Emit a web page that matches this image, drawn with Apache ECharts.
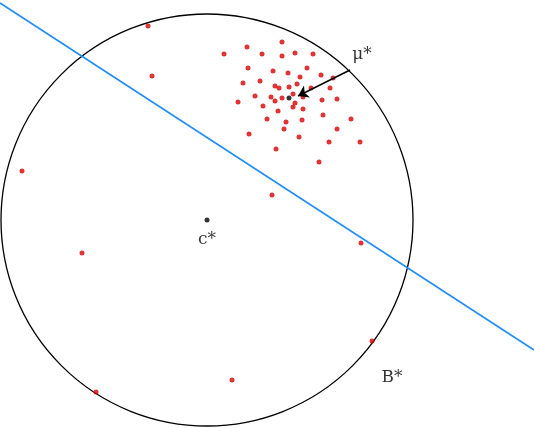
<!DOCTYPE html>
<html>
<head>
<meta charset="utf-8">
<script src="https://cdn.jsdelivr.net/npm/echarts@6/dist/echarts.min.js"></script>
<style>html,body{margin:0;padding:0;background:#fff}</style>
</head>
<body>
<div id="chart1" style="width:534px;height:428px;"></div>
<script type="text/javascript">
// 图中坐标（像素空间，y向下）
var clusterPoints = [[224,54],[247,47],[282,42],[262,54],[282,56],[295,53],[313,54],[248,68],[273,71],[288,73],[307,68],
  [243,83],[260,81],[300,77],[321,75],[333,78],[275,86],[279,88],[289,87],[297,84],[311,88],[330,88],
  [255,96],[271,97],[282,98],[293,94],[303,97],[238,102],[275,101],[295,103],[322,100],[337,99],
  [263,106],[293,107],[303,109],[278,111],[323,115],[267,119],[286,122],[302,120],[351,119],
  [284,129],[337,129],[249,134],[299,137],[329,142],[360,142],[276,149],[319,162]];
var outlierPoints = [[148,26],[152,76],[22,171],[272,195],[82,253],[361,243],[372,341],[232,380],[96,392]];
var centerC = [207,220];
var radiusB = 206;
var muStar = [289,98];
var splitLine = [[0,3],[534,350]];
var arrowLine = [[350,70],[298,96]];

var myChart = echarts.init(document.getElementById('chart1'));
var option = {
  animation: false,
  grid: {left: 0, right: 0, top: 0, bottom: 0},
  xAxis: {type: 'value', min: 0, max: 534, show: false},
  yAxis: {type: 'value', min: 0, max: 428, inverse: true, show: false},
  series: [{
    type: 'custom',
    data: [[centerC[0], centerC[1], radiusB]],
    renderItem: function (params, api) {
      var c = api.coord([api.value(0), api.value(1)]);
      var r = api.size([api.value(2), 0])[0];
      return {type: 'circle', shape: {cx: c[0], cy: c[1], r: r},
        style: {fill: 'none', stroke: '#000', lineWidth: 1.3}};
    },
    silent: true, z: 1
  }, {
    type: 'line', data: splitLine, symbol: 'none',
    lineStyle: {color: '#1a8cff', width: 1.5}, z: 2
  }, {
    type: 'scatter', data: clusterPoints.concat(outlierPoints),
    symbolSize: 5, itemStyle: {color: '#d90000'}, z: 3
  }, {
    type: 'scatter', data: [muStar, centerC],
    symbolSize: 5, itemStyle: {color: '#000'}, z: 4
  }, {
    type: 'lines', coordinateSystem: 'cartesian2d',
    data: [{coords: arrowLine}],
    symbol: ['none', 'arrow'], symbolSize: 10,
    lineStyle: {color: '#000', width: 1.5, opacity: 1}, z: 5
  }, {
    type: 'scatter', symbolSize: 0,
    data: [
      {value: [362, 55], label: {formatter: 'μ*'}},
      {value: [207, 240], label: {formatter: 'c*'}},
      {value: [392, 378], label: {formatter: 'B*'}}
    ],
    label: {show: true, position: 'inside', color: '#000', fontSize: 17, fontFamily: 'DejaVu Serif'},
    z: 6
  }]
};
myChart.setOption(option);
</script>
</body>
</html>
